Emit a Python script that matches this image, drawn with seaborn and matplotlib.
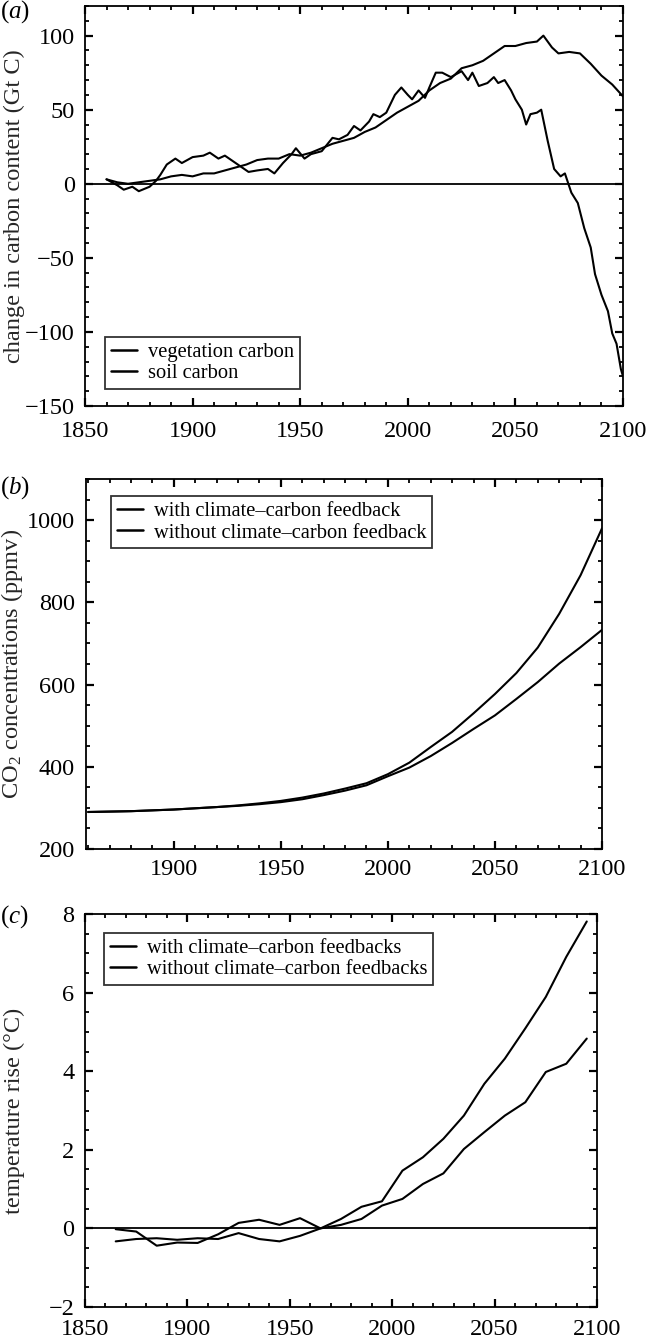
import numpy as np
import pandas as pd
import matplotlib
matplotlib.use("Agg")
import matplotlib.pyplot as plt
from matplotlib.ticker import MultipleLocator
import seaborn as sns

# ---------------- data ----------------
# panel (a): change in carbon content (Gt C)
veg_years = [1860, 1865, 1870, 1875, 1880, 1885, 1890, 1895, 1900, 1905, 1910, 1915,
             1920, 1925, 1930, 1935, 1940, 1945, 1950, 1955, 1960, 1965, 1970, 1975,
             1980, 1985, 1990, 1995, 2000, 2005, 2010, 2015, 2020, 2025, 2030, 2035,
             2040, 2045, 2050, 2055, 2060, 2063, 2067, 2070, 2075, 2080, 2085, 2090,
             2095, 2100]
veg_carbon = [3, 1, 0, 1, 2, 3, 5, 6, 5, 7, 7, 9,
              11, 13, 16, 17, 17, 20, 19, 21, 24, 27, 29, 31,
              35, 38, 43, 48, 52, 56, 63, 68, 71, 78, 80, 83,
              88, 93, 93, 95, 96, 100, 92, 88, 89, 88, 81, 73,
              67, 59]
soil_years = [1860, 1865, 1868, 1872, 1875, 1880, 1883, 1885, 1888, 1892, 1895, 1900,
              1905, 1908, 1912, 1915, 1920, 1923, 1926, 1930, 1935, 1938, 1942, 1946,
              1948, 1952, 1955, 1960, 1965, 1968, 1972, 1975, 1978, 1982, 1984, 1987,
              1990, 1994, 1997, 2000, 2002, 2005, 2008, 2010, 2013, 2016, 2020, 2025,
              2028, 2030, 2033, 2037, 2040, 2042, 2045, 2048, 2050, 2053, 2055, 2057,
              2060, 2062, 2065, 2068, 2071, 2073, 2076, 2079, 2082, 2085, 2087, 2090,
              2093, 2095, 2097, 2099, 2100]
soil_carbon = [3, -1, -4, -2, -5, -2, 2, 6, 13, 17, 14, 18,
               19, 21, 17, 19, 14, 11, 8, 9, 10, 7, 14, 20,
               24, 17, 20, 22, 31, 30, 33, 39, 36, 42, 47, 45,
               48, 60, 65, 60, 57, 63, 58, 65, 75, 75, 72, 76,
               70, 75, 66, 68, 72, 68, 70, 63, 57, 50, 40, 47,
               48, 50, 29, 10, 5, 7, -6, -13, -30, -43, -61, -75,
               -86, -101, -108, -125, -130]

# panel (b): CO2 concentrations (ppmv)
co2_years = list(range(1860, 2101, 10))
co2_with = [290, 291, 292, 294, 296, 299, 302, 306, 311, 317, 325, 335, 347,
            360, 382, 410, 448, 485, 530, 577, 628, 690, 772, 866, 980]
co2_without = [290, 291, 292, 294, 296, 299, 302, 305, 309, 314, 321, 331, 342,
               355, 377, 398, 426, 458, 492, 525, 565, 606, 651, 691, 733]

# panel (c): temperature rise (deg C)
temp_years = list(range(1865, 2096, 10))
temp_with = [-0.02, -0.08, -0.44, -0.36, -0.37, -0.15, 0.14, 0.22, 0.09, 0.26, 0.0, 0.24,
             0.55, 0.69, 1.47, 1.81, 2.28, 2.87, 3.68, 4.32, 5.09, 5.89, 6.91, 7.81]
temp_without = [-0.33, -0.27, -0.25, -0.29, -0.25, -0.27, -0.12, -0.27, -0.33, -0.19, 0.0, 0.09,
                0.24, 0.58, 0.75, 1.13, 1.40, 2.02, 2.45, 2.87, 3.21, 3.98, 4.19, 4.83]

# ---------------- style ----------------
sns.set_style("ticks")
plt.rcParams["font.family"] = ["Liberation Serif", "DejaVu Serif"]
plt.rcParams["mathtext.fontset"] = "custom"
plt.rcParams["mathtext.rm"] = "Liberation Serif"
plt.rcParams["mathtext.it"] = "Liberation Serif:italic"
plt.rcParams["axes.linewidth"] = 1.3
plt.rcParams["axes.edgecolor"] = "black"
plt.rcParams["text.color"] = "black"

TICK_FS = 17.5
LAB_FS = 17.6
LEG_FS = 14.8
LW = 1.5

fig = plt.figure(figsize=(6.49, 13.41), dpi=100)
W, H = 649, 1341


def add_axes(l, r, t, b):
    return fig.add_axes([l / W, 1 - b / H, (r - l) / W, (b - t) / H])


def style_axes(ax, xmaj, xmin, ymaj, ymin, xpad, ypad):
    ax.xaxis.set_major_locator(MultipleLocator(xmaj))
    ax.xaxis.set_minor_locator(MultipleLocator(xmin))
    ax.yaxis.set_major_locator(MultipleLocator(ymaj))
    ax.yaxis.set_minor_locator(MultipleLocator(ymin))
    ax.tick_params(which="both", direction="in", top=True, right=True,
                   colors="black", labelsize=TICK_FS)
    ax.tick_params(which="major", length=6, width=1.6)
    ax.tick_params(which="minor", length=3, width=1.3)
    ax.tick_params(axis="x", which="major", pad=xpad)
    ax.tick_params(axis="y", which="major", pad=ypad)
    for s in ax.spines.values():
        s.set_color("black")
        s.set_linewidth(1.3)


def style_legend(ax, loc, anchor):
    leg = ax.legend(loc=loc, bbox_to_anchor=anchor, borderaxespad=0,
                    fontsize=LEG_FS, frameon=True, fancybox=False,
                    edgecolor="black", handlelength=1.3, handletextpad=0.5,
                    labelspacing=0.1, borderpad=0.28)
    leg.get_frame().set_linewidth(1.3)
    for line in leg.get_lines():
        line.set_linewidth(1.8)
    return leg


# ---------------- panel (a) ----------------
axa = add_axes(85, 623, 6, 406)
df_veg = pd.DataFrame({"year": veg_years, "value": veg_carbon})
df_soil = pd.DataFrame({"year": soil_years, "value": soil_carbon})
sns.lineplot(data=df_veg, x="year", y="value", ax=axa, color="black", lw=LW,
             label="vegetation carbon")
sns.lineplot(data=df_soil, x="year", y="value", ax=axa, color="black", lw=LW,
             label="soil carbon")
axa.axhline(0, color="black", lw=1.3)
axa.set_xlim(1850, 2100)
axa.set_ylim(-150, 120)
style_axes(axa, 50, 10, 50, 10, xpad=11, ypad=7.2)
axa.set_xlabel("")
axa.set_ylabel("change in carbon content (Gt C)", fontsize=LAB_FS)
axa.yaxis.set_label_coords(-(85 - 25) / 538, 0.5)
style_legend(axa, "lower left", (0.037, 0.0425))

# ---------------- panel (b) ----------------
axb = add_axes(86, 602, 479, 849)
df_co2 = pd.DataFrame({"year": co2_years + co2_years,
                       "value": co2_with + co2_without,
                       "case": ["with climate\u2013carbon feedback"] * len(co2_years)
                       + ["without climate\u2013carbon feedback"] * len(co2_years)})
sns.lineplot(data=df_co2, x="year", y="value", hue="case",
             palette=["black", "black"], ax=axb, lw=LW)
axb.set_xlim(1859, 2100)
axb.set_ylim(200, 1100)
style_axes(axb, 50, 10, 200, 50, xpad=7, ypad=8)
axb.set_xlabel("")
axb.set_ylabel("CO$_2$ concentrations (ppmv)", fontsize=LAB_FS)
axb.yaxis.set_label_coords(-(86 - 25) / 516, 0.5)
style_legend(axb, "upper left", (0.048, 0.954))

# ---------------- panel (c) ----------------
axc = add_axes(85, 597, 914, 1307)
df_t = pd.DataFrame({"year": temp_years + temp_years,
                     "value": temp_with + temp_without,
                     "case": ["with climate\u2013carbon feedbacks"] * len(temp_years)
                     + ["without climate\u2013carbon feedbacks"] * len(temp_years)})
sns.lineplot(data=df_t, x="year", y="value", hue="case",
             palette=["black", "black"], ax=axc, lw=LW)
axc.axhline(0, color="black", lw=1.3)
axc.set_xlim(1850, 2100)
axc.set_ylim(-2, 8)
style_axes(axc, 50, 10, 2, 0.5, xpad=8.5, ypad=7.5)
axc.set_xlabel("")
axc.set_ylabel("temperature rise (\u00b0C)", fontsize=LAB_FS)
axc.yaxis.set_label_coords(-(85 - 25) / 512, 0.5)
style_legend(axc, "upper left", (0.037, 0.952))

# panel letters
fig.text(0.0, 1 - 12 / H, "($\\mathit{a}$)", fontsize=18, va="center", ha="left")
fig.text(0.0, 1 - 488 / H, "($\\mathit{b}$)", fontsize=18, va="center", ha="left")
fig.text(0.0, 1 - 917 / H, "($\\mathit{c}$)", fontsize=18, va="center", ha="left")

fig.savefig("out.png", dpi=100)
